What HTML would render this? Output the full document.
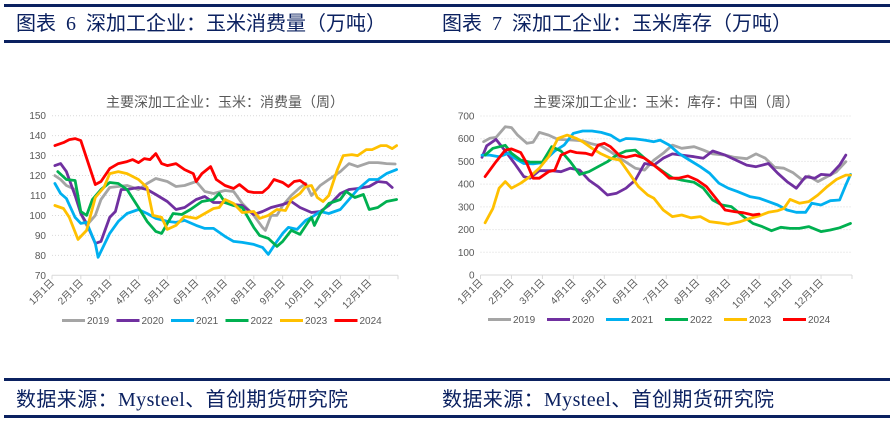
<!DOCTYPE html>
<html><head><meta charset="utf-8">
<style>
html,body{margin:0;padding:0;background:#fff;}
body{width:894px;height:422px;position:relative;overflow:hidden;font-family:"Liberation Sans","Noto Sans CJK SC",sans-serif;}
.hr{position:absolute;left:4px;width:886px;height:3px;background:#0b2160;}
.cap{position:absolute;font-size:20px;color:#0b2160;font-family:"Liberation Serif","Noto Sans CJK SC",sans-serif;white-space:pre;line-height:24px;}
svg{position:absolute;top:0;left:0;}
</style></head>
<body>
<div class="hr" style="top:4px"></div>
<div class="hr" style="top:40px"></div>
<div class="hr" style="top:378px"></div>
<div class="hr" style="top:415px"></div>
<div class="cap" style="left:16px;top:12px">图表  6  深加工企业：玉米消费量（万吨）</div>
<div class="cap" style="left:442px;top:12px">图表  7  深加工企业：玉米库存（万吨）</div>
<div class="cap" style="left:16px;top:388px;letter-spacing:0.4px">数据来源：Mysteel、首创期货研究院</div>
<div class="cap" style="left:442px;top:388px;letter-spacing:0.4px">数据来源：Mysteel、首创期货研究院</div>
<svg id="svg" width="894" height="422"></svg>
<script>
const months=["1月1日","2月1日","3月1日","4月1日","5月1日","6月1日","7月1日","8月1日","9月1日","10月1日","11月1日","12月1日"];
const years=["2019","2020","2021","2022","2023","2024"];
const colors=["#a5a5a5","#7030a0","#00b0f0","#00b050","#ffc000","#ff0000"];
const ticks1=[70,80,90,100,110,120,130,140,150];
const ticks2=[0,100,200,300,400,500,600,700];
const c1_2019=[[0.1,120],[0.3,118],[0.5,115],[0.8,113],[1.0,101],[1.2,95],[1.5,100],[1.7,108],[2.0,114],[2.3,114.5],[2.6,115],[3.0,113],[3.3,116],[3.6,118.5],[4.0,117],[4.3,114.5],[4.6,115],[5.0,117],[5.3,112],[5.6,111],[6.0,112.5],[6.3,112],[6.6,106],[7.0,100],[7.3,94],[7.4,92.5],[7.6,100],[7.8,100],[8.0,105],[8.3,110],[8.6,114],[8.8,116],[9.0,110],[9.3,115],[9.6,118],[10.0,122],[10.3,126],[10.6,124.5],[11.0,126.5],[11.3,126.5],[11.6,126],[11.9,125.8]];
const c1_2020=[[0.1,125],[0.3,126],[0.5,122],[0.8,110],[1.0,101],[1.2,96],[1.5,86],[1.7,87],[2.0,99],[2.2,102],[2.4,113],[2.6,113],[3.0,114],[3.3,113],[3.6,110.5],[4.0,107],[4.3,103],[4.6,104],[5.0,108],[5.3,109.5],[5.6,106.5],[6.0,106.5],[6.3,105.5],[6.6,105],[7.0,100.5],[7.3,102],[7.6,104],[8.0,105.5],[8.3,107],[8.6,104],[9.0,101.5],[9.3,102],[9.6,105],[10.0,111],[10.3,113],[10.6,113.5],[11.0,114.5],[11.3,117],[11.6,116.5],[11.8,114]];
const c1_2021=[[0.1,116],[0.3,111],[0.5,108.5],[0.8,99],[1.0,96],[1.2,96.5],[1.5,86],[1.6,79],[2.0,91],[2.3,97],[2.6,101],[3.0,103],[3.3,101],[3.6,98.5],[4.0,97],[4.3,96.5],[4.6,97.5],[5.0,95],[5.3,93.5],[5.6,93.5],[6.0,89.5],[6.3,87],[6.6,86.5],[7.0,85.5],[7.3,84],[7.5,80.5],[7.8,87],[8.0,91],[8.2,94],[8.5,93],[8.8,97.5],[9.0,99],[9.3,102],[9.6,101],[10.0,103],[10.3,108],[10.6,113],[11.0,118],[11.3,118],[11.6,121],[11.95,123]];
const c1_2022=[[0.2,122],[0.5,118],[0.8,117.5],[1.0,102],[1.2,100],[1.4,108],[1.7,113],[2.0,116.5],[2.3,116],[2.6,113],[3.0,104],[3.3,97],[3.6,92],[3.8,91],[4.0,96],[4.2,101],[4.5,100.5],[4.8,103],[5.2,107],[5.6,108],[5.8,111],[6.0,106.5],[6.3,105],[6.6,104],[7.0,94],[7.2,90],[7.5,88.5],[7.8,84.5],[8.0,87],[8.3,92.5],[8.6,90.5],[8.9,97],[9.0,99],[9.1,95],[9.3,101],[9.6,106],[10.0,108],[10.2,112],[10.5,109],[10.8,110.5],[11.0,103],[11.3,104],[11.6,107],[11.95,108]];
const c1_2023=[[0.1,105],[0.4,103.5],[0.6,99],[0.9,88],[1.2,92.5],[1.5,109],[1.8,114],[2.0,121],[2.3,122],[2.6,121],[3.0,118],[3.3,114],[3.5,100],[3.8,99],[4.0,93],[4.3,95],[4.6,99.5],[5.0,98.5],[5.3,101],[5.6,103.5],[5.8,104],[6.0,108],[6.3,106],[6.6,101.5],[7.0,102],[7.2,98.5],[7.5,100],[7.8,103],[8.1,102.5],[8.3,108],[8.6,111],[8.8,114.5],[9.0,115],[9.2,109],[9.4,107],[9.6,110],[9.9,123],[10.1,130],[10.4,130.5],[10.6,130],[10.9,133],[11.1,133],[11.4,135],[11.6,135],[11.8,133.5],[11.95,135]];
const c1_2024=[[0.1,135],[0.4,136.5],[0.6,138],[0.8,138.5],[1.0,137.5],[1.5,115.5],[1.7,117],[2.0,123.5],[2.3,126],[2.6,127],[2.8,128],[3.0,126.5],[3.2,128.5],[3.4,128],[3.6,131],[3.8,126],[4.0,125],[4.3,126],[4.6,123],[4.9,121],[5.0,117],[5.2,121],[5.5,124.5],[5.7,118],[6.0,115],[6.3,113.5],[6.5,115.5],[6.8,112],[7.0,111.5],[7.3,111.5],[7.5,114],[7.7,118],[8.0,116.5],[8.2,114.5],[8.4,117],[8.6,117.5],[8.8,115.5]];
const c2_2019=[[0.1,587],[0.3,602],[0.5,606],[0.8,653],[1.0,649],[1.2,616],[1.5,580],[1.7,584],[1.9,628],[2.2,616],[2.5,597],[3.0,594],[3.3,591],[3.6,577],[3.9,568],[4.2,543],[4.6,506],[5.0,470],[5.3,462],[5.6,506],[5.9,536],[6.2,572],[6.5,558],[6.9,565],[7.2,550],[7.5,533],[7.9,528],[8.2,518],[8.6,512],[8.9,533],[9.2,514],[9.5,474],[9.8,470],[10.1,450],[10.4,418],[10.6,436],[10.9,411],[11.2,433],[11.5,455],[11.8,499]];
const c2_2020=[[0.05,518],[0.2,569],[0.5,597],[0.8,546],[1.1,491],[1.4,433],[1.6,426],[1.9,459],[2.3,459],[2.6,455],[2.9,470],[3.2,462],[3.5,418],[3.8,389],[4.1,352],[4.4,360],[4.7,382],[5.0,418],[5.3,491],[5.6,484],[5.9,514],[6.2,533],[6.5,528],[6.9,521],[7.2,514],[7.5,546],[7.9,528],[8.2,509],[8.6,484],[8.9,477],[9.3,491],[9.6,448],[9.9,411],[10.2,382],[10.5,433],[10.8,426],[11.0,443],[11.3,440],[11.6,484],[11.8,528]];
const c2_2021=[[0.05,528],[0.3,528],[0.6,521],[0.9,536],[1.1,514],[1.4,491],[1.7,489],[2.0,495],[2.4,546],[2.7,572],[3.0,624],[3.3,634],[3.6,634],[3.9,628],[4.2,616],[4.5,590],[4.7,601],[5.0,599],[5.3,594],[5.6,587],[5.8,594],[6.1,572],[6.4,536],[6.8,502],[7.1,477],[7.4,448],[7.7,404],[8.0,382],[8.3,367],[8.7,345],[9.0,338],[9.3,323],[9.6,308],[9.9,286],[10.2,276],[10.5,276],[10.7,316],[11.0,308],[11.3,327],[11.6,330],[11.8,396],[11.95,443]];
const c2_2022=[[0.15,528],[0.4,558],[0.8,571],[1.0,536],[1.3,506],[1.6,497],[2.0,497],[2.3,565],[2.6,546],[2.9,499],[3.2,443],[3.5,455],[3.8,477],[4.1,499],[4.4,528],[4.7,546],[5.0,550],[5.3,514],[5.6,484],[5.9,455],[6.2,428],[6.5,418],[6.9,408],[7.2,382],[7.5,330],[7.8,308],[8.1,301],[8.5,257],[8.8,227],[9.1,213],[9.4,195],[9.7,210],[10.0,205],[10.3,205],[10.6,213],[11.0,191],[11.3,198],[11.6,208],[11.95,227]];
const c2_2023=[[0.15,230],[0.4,293],[0.6,382],[0.8,411],[1.0,382],[1.3,404],[1.6,433],[1.9,470],[2.2,521],[2.5,601],[2.8,616],[3.1,601],[3.3,587],[3.6,558],[3.9,533],[4.2,514],[4.5,506],[4.8,448],[5.1,389],[5.4,352],[5.6,338],[5.9,286],[6.2,257],[6.5,264],[6.8,252],[7.1,257],[7.4,235],[7.7,230],[8.0,223],[8.4,235],[8.7,249],[9.0,260],[9.3,276],[9.6,283],[9.8,293],[10.0,333],[10.3,316],[10.6,323],[10.9,352],[11.2,389],[11.5,421],[11.8,440],[11.95,440]];
const c2_2024=[[0.15,433],[0.5,499],[0.8,550],[1.0,555],[1.3,539],[1.5,491],[1.7,426],[1.9,426],[2.2,455],[2.4,462],[2.6,528],[2.9,546],[3.1,539],[3.4,536],[3.6,528],[3.8,572],[4.0,580],[4.2,565],[4.5,525],[4.7,518],[5.0,528],[5.3,514],[5.6,484],[5.9,451],[6.1,426],[6.4,426],[6.7,436],[7.0,418],[7.3,389],[7.6,338],[7.9,286],[8.2,279],[8.5,274],[8.8,264],[9.0,268]];

const NS="http://www.w3.org/2000/svg";
const svg=document.getElementById('svg');
function mk(tag,attrs,parent){const e=document.createElementNS(NS,tag);for(const k in attrs)e.setAttribute(k,attrs[k]);(parent||svg).appendChild(e);return e;}

function drawChart(cfg){
  const g=mk('g',{});
  
  
  const xS=m=>cfg.x0+(cfg.x1-cfg.x0)*m/12;
  const yS=v=>cfg.y1-(cfg.y1-cfg.y0)*(v-cfg.ymin)/(cfg.ymax-cfg.ymin);
  const t=mk('text',{x:(cfg.x0+cfg.x1)/2,y:107,'text-anchor':'middle','font-size':'14',fill:'#595959'},g);
  t.textContent=cfg.title;
  
  
  cfg.ticks.forEach(v=>{
    const y=yS(v);
    if(v!==cfg.ymin){const gl=mk('line',{x1:cfg.x0,x2:cfg.x1,y1:y,y2:y,stroke:'#d9d9d9','stroke-dasharray':'1,2','stroke-width':1},g);
      
      }
    const tl=mk('text',{x:cfg.x0-6,y:y+3.5,'text-anchor':'end','font-size':'10',fill:'#595959'},g);
    tl.textContent=v;
    
    
  });
  const ax=mk('line',{x1:cfg.x0,x2:cfg.x1,y1:cfg.y1,y2:cfg.y1,stroke:'#d9d9d9','stroke-width':1},g);
  
  
  for(let i=0;i<=12;i++){const x=xS(i);mk('line',{x1:x,x2:x,y1:cfg.y1,y2:cfg.y1+4,stroke:'#d9d9d9'},g);}
  months.forEach((m,i)=>{
    const x=xS(i)+3,y=cfg.y1+8;
    const tl=mk('text',{x:x,y:y,'text-anchor':'end','font-size':'10',fill:'#595959',transform:`rotate(-45 ${x} ${y})`},g);
    tl.textContent=m;
    
    
  });
  cfg.series.forEach((s,i)=>{
    const d=s.map((p,j)=>(j?'L':'M')+xS(p[0]).toFixed(1)+','+yS(p[1]).toFixed(1)).join('');
    const pl=mk('path',{d:d,fill:'none',stroke:colors[i],'stroke-width':2.8,'stroke-linejoin':'round','stroke-linecap':'round'},g);
    
    
  });
  let lx=cfg.legX;
  years.forEach((yr,i)=>{
    const le=mk('g',{},g);
    
    
    mk('line',{x1:lx,x2:lx+23,y1:cfg.legY,y2:cfg.legY,stroke:colors[i],'stroke-width':3},le);
    const tx=mk('text',{x:lx+25,y:cfg.legY+3.5,'font-size':'10',fill:'#595959'},le);
    tx.textContent=yr;
    lx+=cfg.legStep;
  });
}
drawChart({name:'consumption-chart',title:'主要深加工企业：玉米：消费量（周）',x0:52,x1:398,y0:115.7,y1:275.3,ymin:70,ymax:150,ticks:ticks1,
  series:[c1_2019,c1_2020,c1_2021,c1_2022,c1_2023,c1_2024],legX:62,legStep:54.5,legY:320.5});
drawChart({name:'inventory-chart',title:'主要深加工企业：玉米：库存：中国（周）',x0:480.5,x1:852,y0:116,y1:275,ymin:0,ymax:700,ticks:ticks2,
  series:[c2_2019,c2_2020,c2_2021,c2_2022,c2_2023,c2_2024],legX:488,legStep:59,legY:319.5});
</script>
</body></html>
